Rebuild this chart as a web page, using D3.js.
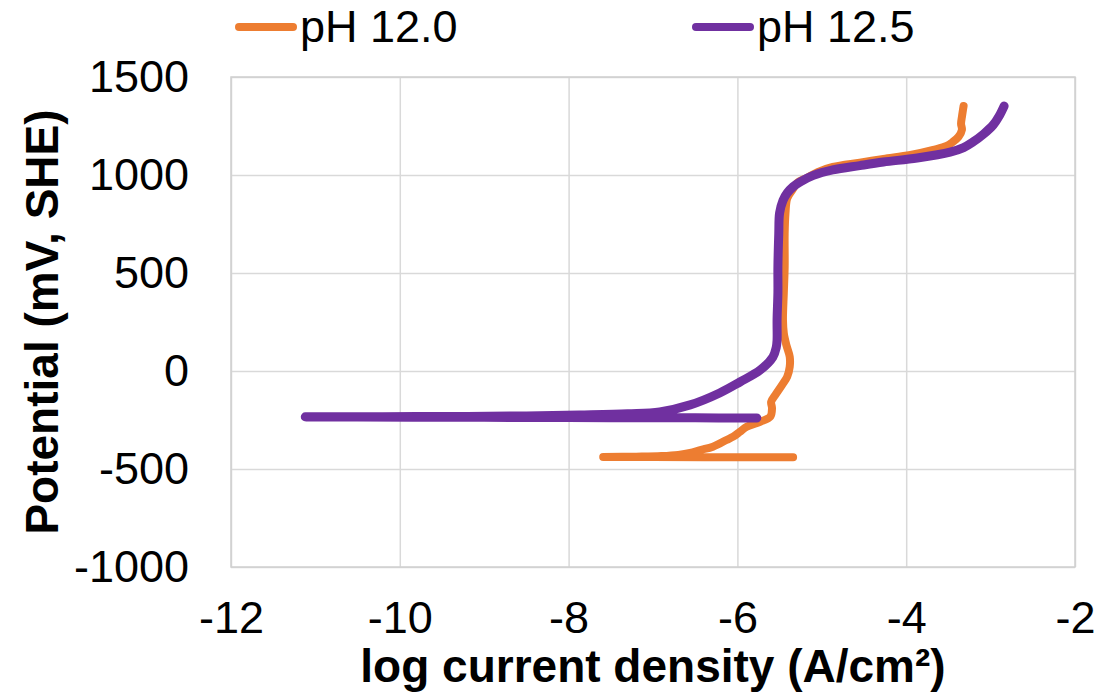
<!DOCTYPE html>
<html>
<head>
<meta charset="utf-8">
<script src="https://cdn.jsdelivr.net/npm/d3@7"></script>
<style>
  body { margin: 0; background: #fff; }
  svg { display: block; font-family: "Liberation Sans", Arial, sans-serif; }
</style>
</head>
<body>
<svg id="chart" width="1116" height="693"></svg>
<script>
// series names and colours
const seriesNames = ["pH 12.0", "pH 12.5"];
const seriesColors = ["#ED7D31", "#7030A0"];

// log current density (A/cm2) vs potential (mV, SHE), in scan order
const ph120_logI = [-5.34, -6.2, -7.0, -7.59, -7.2, -6.9, -6.7, -6.56, -6.44, -6.29, -6.13, -6.05, -5.97, -5.89, -5.73, -5.61, -5.59, -5.60, -5.55, -5.47, -5.41, -5.38, -5.38, -5.42, -5.45, -5.46, -5.45, -5.44, -5.44, -5.43, -5.41, -5.35, -5.29, -5.18, -5.05, -4.87, -4.55, -4.27, -3.95, -3.68, -3.52, -3.45, -3.38, -3.34, -3.35, -3.34, -3.33, -3.32];
const ph120_E    = [-440, -440, -439, -439, -437, -434, -428, -418, -403, -386, -352, -335, -310, -284, -259, -233, -190, -157, -122, -71, -29, 22, 73, 133, 192, 260, 400, 530, 700, 806, 880, 923, 960, 985, 1015, 1041, 1063, 1082, 1102, 1128, 1148, 1168, 1195, 1230, 1262, 1296, 1325, 1352];

const ph125_logI = [-5.77, -6.5, -7.5, -8.5, -9.5, -10.5, -11.12, -10.2, -9.2, -8.5, -7.87, -7.3, -6.92, -6.56, -6.21, -5.97, -5.73, -5.58, -5.54, -5.53, -5.53, -5.52, -5.52, -5.51, -5.50, -5.46, -5.41, -5.34, -5.26, -5.10, -4.87, -4.55, -4.27, -3.87, -3.48, -3.32, -3.21, -3.08, -2.97, -2.90, -2.84];
const ph125_E    = [-240, -239, -238, -237, -236, -235, -234, -233, -232, -229, -224, -218, -209, -173, -112, -56, 5, 71, 120, 158, 260, 400, 531, 700, 806, 870, 908, 940, 964, 998, 1026, 1048, 1066, 1087, 1117, 1140, 1168, 1210, 1255, 1300, 1352];

const xTicks = [-12, -10, -8, -6, -4, -2];
const yTicks = [-1000, -500, 0, 500, 1000, 1500];

const series = [
  { name: seriesNames[0], color: seriesColors[0], x: ph120_logI, y: ph120_E },
  { name: seriesNames[1], color: seriesColors[1], x: ph125_logI, y: ph125_E }
];

const svg = d3.select("#chart");
const margin = { top: 77, right: 41, bottom: 126, left: 231 };
const W = 1116 - margin.left - margin.right;
const H = 693 - margin.top - margin.bottom;

const x = d3.scaleLinear().domain([-12, -2]).range([0, W]);
const y = d3.scaleLinear().domain([-1000, 1500]).range([H, 0]);

const g = svg.append("g").attr("transform", `translate(${margin.left},${margin.top})`);

// gridlines
g.append("g")
  .call(d3.axisLeft(y).tickValues(yTicks).tickSize(-W).tickFormat(""))
  .call(a => a.select(".domain").remove())
  .call(a => a.selectAll(".tick line").attr("stroke", "#d9d9d9").attr("stroke-width", 1.5));

g.append("g")
  .attr("transform", `translate(0,${H})`)
  .call(d3.axisBottom(x).tickValues(xTicks).tickSize(-H).tickFormat(""))
  .call(a => a.select(".domain").remove())
  .call(a => a.selectAll(".tick line").attr("stroke", "#d9d9d9").attr("stroke-width", 1.5));

g.append("rect")
  .attr("width", W).attr("height", H)
  .attr("fill", "none").attr("stroke", "#d0d0d0").attr("stroke-width", 1.5);

// tick labels
g.append("g")
  .call(d3.axisLeft(y).tickValues(yTicks).tickSize(0).tickPadding(42).tickFormat(d => String(d)))
  .call(a => a.select(".domain").remove())
  .call(a => a.selectAll("text").attr("font-size", 45).attr("fill", "#000")
    .attr("font-family", "Liberation Sans, Arial, sans-serif"));

g.append("g")
  .attr("transform", `translate(0,${H})`)
  .call(d3.axisBottom(x).tickValues(xTicks).tickSize(0).tickPadding(34).tickFormat(d => String(d)))
  .call(a => a.select(".domain").remove())
  .call(a => a.selectAll("text").attr("font-size", 45).attr("fill", "#000")
    .attr("font-family", "Liberation Sans, Arial, sans-serif"));

// lines
const line = d3.line()
  .x(d => x(d[0]))
  .y(d => y(d[1]))
  .curve(d3.curveCatmullRom.alpha(0.5));

series.forEach((s, i) => {
  const pts = s.x.map((v, k) => [v, s.y[k]]);
  g.append("path")
    .datum(pts)
    .attr("d", line)
    .attr("fill", "none")
    .attr("stroke", s.color)
    .attr("stroke-width", i === 0 ? 8 : 9)
    .attr("stroke-linecap", "round")
    .attr("stroke-linejoin", "round");
});

// axis titles
svg.append("text")
  .attr("x", margin.left + W / 2)
  .attr("y", 682)
  .attr("text-anchor", "middle")
  .attr("font-size", 46)
  .attr("font-weight", "bold")
  .text("log current density (A/cm²)");

svg.append("text")
  .attr("transform", `translate(58,${margin.top + H / 2}) rotate(-90)`)
  .attr("text-anchor", "middle")
  .attr("font-size", 46)
  .attr("font-weight", "bold")
  .text("Potential (mV, SHE)");

// legend
const legendX = [239, 696];
series.forEach((s, i) => {
  const lg = svg.append("g").attr("transform", `translate(${legendX[i]},27)`);
  lg.append("line")
    .attr("x1", 0).attr("x2", 54)
    .attr("stroke", s.color).attr("stroke-width", 8).attr("stroke-linecap", "round");
  lg.append("text")
    .attr("x", 61).attr("y", 15)
    .attr("font-size", 45)
    .text(s.name);
});
</script>
</body>
</html>
